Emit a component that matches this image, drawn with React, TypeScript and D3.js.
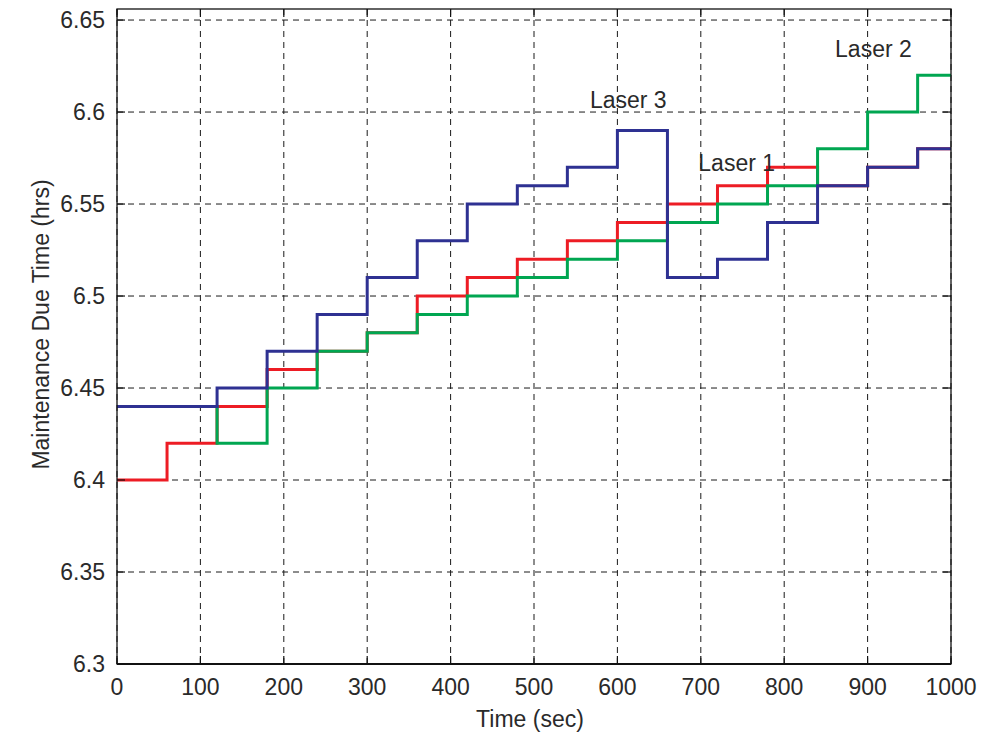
import React, { useEffect, useRef } from 'react';
import * as d3 from 'd3';

// step changes happen every 60 s, the last step is held to t = 1000
const times = [0, 60, 120, 180, 240, 300, 360, 420, 480, 540, 600, 660, 720, 780, 840, 900, 960];
const endTime = 1000;

const laser1 = [6.40, 6.42, 6.44, 6.46, 6.47, 6.48, 6.50, 6.51, 6.52, 6.53, 6.54, 6.55, 6.56, 6.57, 6.56, 6.57, 6.58];
const laser2 = [6.44, 6.44, 6.42, 6.45, 6.47, 6.48, 6.49, 6.50, 6.51, 6.52, 6.53, 6.54, 6.55, 6.56, 6.58, 6.60, 6.62];
const laser3 = [6.44, 6.44, 6.45, 6.47, 6.49, 6.51, 6.53, 6.55, 6.56, 6.57, 6.59, 6.51, 6.52, 6.54, 6.56, 6.57, 6.58];

const xTicks = [0, 100, 200, 300, 400, 500, 600, 700, 800, 900, 1000];
const yTicks = [6.3, 6.35, 6.4, 6.45, 6.5, 6.55, 6.6, 6.65];

// text labels placed next to the lines (data units)
const annotations = [
  { text: 'Laser 1', t: 697, v: 6.568 },
  { text: 'Laser 2', t: 861, v: 6.630 },
  { text: 'Laser 3', t: 567, v: 6.602 },
];

const width = 997;
const height = 736;
const margin = { top: 9, right: 46, bottom: 72, left: 117 };
const font = '"Liberation Sans", Arial, sans-serif';

const App = () => {
  const chartRef = useRef<SVGSVGElement | null>(null);

  useEffect(() => {
    const svg = d3.select(chartRef.current);
    svg.selectAll('*').remove();
    plotChart(svg);
  });

  const x = d3.scaleLinear().domain([0, 1000]).range([margin.left, width - margin.right]);
  const y = d3.scaleLinear().domain([6.3, 6.656]).range([height - margin.bottom, margin.top]);

  const line = d3.line<[number, number]>()
    .x(d => x(d[0]))
    .y(d => y(d[1]))
    .curve(d3.curveStepAfter);

  const toPoints = (values: number[]): [number, number][] => {
    const pts = times.map((t, i) => [t, values[i]] as [number, number]);
    pts.push([endTime, values[values.length - 1]]);
    return pts;
  };

  const series = [
    { name: 'Laser 1', color: '#ed1c24', values: laser1 },
    { name: 'Laser 2', color: '#00a651', values: laser2 },
    { name: 'Laser 3', color: '#2e3192', values: laser3 },
  ];

  const plotChart = (svg: any) => {
    const [x0, x1] = x.range();
    const [y0, y1] = y.range();

    svg.append('rect')
      .attr('width', width)
      .attr('height', height)
      .attr('fill', '#fff');

    // dashed grid
    svg.append('g')
      .attr('stroke', '#1a1a1a')
      .attr('stroke-width', 1)
      .attr('stroke-dasharray', '6,5')
      .call((g: any) => g.selectAll('line.v')
        .data(xTicks)
        .join('line')
        .attr('class', 'v')
        .attr('x1', (d: number) => x(d))
        .attr('x2', (d: number) => x(d))
        .attr('y1', y0)
        .attr('y2', y1))
      .call((g: any) => g.selectAll('line.h')
        .data(yTicks)
        .join('line')
        .attr('class', 'h')
        .attr('x1', x0)
        .attr('x2', x1)
        .attr('y1', (d: number) => y(d))
        .attr('y2', (d: number) => y(d)));

    // the three step lines
    svg.append('g')
      .attr('fill', 'none')
      .attr('stroke-width', 3)
      .attr('stroke-linejoin', 'miter')
      .selectAll('path')
      .data(series)
      .join('path')
      .attr('stroke', (d: any) => d.color)
      .attr('d', (d: any) => line(toPoints(d.values)));

    // axes box with inward ticks
    svg.append('rect')
      .attr('x', x0)
      .attr('y', y1)
      .attr('width', x1 - x0)
      .attr('height', y0 - y1)
      .attr('fill', 'none')
      .attr('stroke', '#111')
      .attr('stroke-width', 1.3);

    svg.append('line')
      .attr('x1', x0).attr('x2', x1)
      .attr('y1', y0).attr('y2', y0)
      .attr('stroke', '#111')
      .attr('stroke-width', 2);

    const tickLen = 8;
    const ticks = svg.append('g').attr('stroke', '#111').attr('stroke-width', 1.2);
    xTicks.forEach(t => {
      ticks.append('line').attr('x1', x(t)).attr('x2', x(t)).attr('y1', y0).attr('y2', y0 - tickLen);
      ticks.append('line').attr('x1', x(t)).attr('x2', x(t)).attr('y1', y1).attr('y2', y1 + tickLen);
    });
    yTicks.forEach(v => {
      ticks.append('line').attr('x1', x0).attr('x2', x0 + tickLen).attr('y1', y(v)).attr('y2', y(v));
      ticks.append('line').attr('x1', x1).attr('x2', x1 - tickLen).attr('y1', y(v)).attr('y2', y(v));
    });

    // tick labels
    const labels = svg.append('g')
      .attr('font-family', font)
      .attr('font-size', 23)
      .attr('fill', '#2a2a2a');

    labels.selectAll('text.x')
      .data(xTicks)
      .join('text')
      .attr('class', 'x')
      .attr('x', (d: number) => x(d))
      .attr('y', y0 + 31)
      .attr('text-anchor', 'middle')
      .text((d: number) => d);

    labels.selectAll('text.y')
      .data(yTicks)
      .join('text')
      .attr('class', 'y')
      .attr('x', x0 - 12)
      .attr('y', (d: number) => y(d) + 8)
      .attr('text-anchor', 'end')
      .text((d: number) => String(d));

    // axis titles
    labels.append('text')
      .attr('x', (x0 + x1) / 2 - 4)
      .attr('y', y0 + 63)
      .attr('text-anchor', 'middle')
      .text('Time (sec)');

    labels.append('text')
      .attr('transform', `translate(49, ${(y0 + y1) / 2 - 12}) rotate(-90)`)
      .attr('text-anchor', 'middle')
      .text('Maintenance Due Time (hrs)');

    // line annotations
    labels.selectAll('text.note')
      .data(annotations)
      .join('text')
      .attr('class', 'note')
      .attr('x', (d: any) => x(d.t))
      .attr('y', (d: any) => y(d.v))
      .text((d: any) => d.text);
  };

  return (
    <svg
      ref={chartRef}
      width={width}
      height={height}
      style={{ position: 'absolute', left: 0, top: 0, display: 'block' }}
    />
  );
};

export default App;
